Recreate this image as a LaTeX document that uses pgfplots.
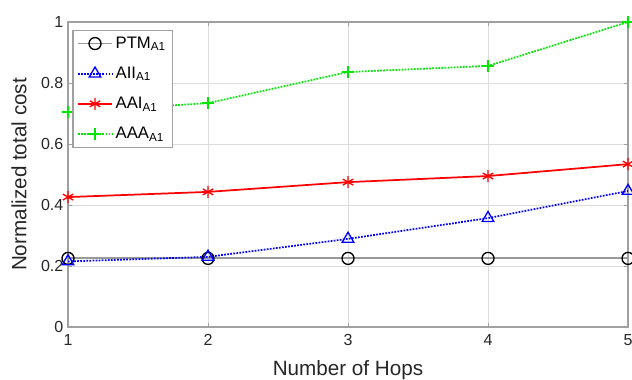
\documentclass[border=0pt]{standalone}
\usepackage{pgfplots}
\pgfplotsset{compat=1.18}
\usepackage{fontspec}
\setmainfont{Liberation Sans}
\definecolor{axgray}{RGB}{160,160,160}
\definecolor{gridgray}{RGB}{220,220,220}
\definecolor{mgreen}{RGB}{0,230,0}
\begin{document}
\begin{tikzpicture}
\begin{axis}[
  scale only axis,
  width=420pt, height=228.75pt,
  xmin=1, xmax=5, ymin=0, ymax=1,
  xtick={1,2,3,4,5},
  ytick={0,0.2,0.4,0.6,0.8,1},
  /pgf/number format/assume math mode=true,
  tick label style={font=\fontsize{12}{14}\selectfont, text=black!85},
  label style={font=\fontsize{15.5}{18}\selectfont, text=black!85},
  xlabel={Number of Hops},
  ylabel={Normalized total cost},
  xlabel style={yshift=-4pt},
  ylabel style={yshift=4pt},
  axis line style={axgray, line width=1pt},
  tick style={axgray, line width=0.6pt},
  tick align=inside,
  major tick length=3pt,
  xmajorgrids, ymajorgrids,
  grid style={gridgray, line width=0.6pt},
  xticklabel style={yshift=-2pt},
  legend style={at={(0.008,0.975)}, anchor=north west, draw=axgray, line width=0.8pt,
    font=\fontsize{12.5}{14}\selectfont, fill=white, row sep=8.5pt, inner sep=3pt},
  legend cell align=left,
  legend image code/.code={
    \draw[mark repeat=2,mark phase=2] plot coordinates {(0cm,0cm) (0.45cm,0cm) (0.9cm,0cm)};
  },
]
\addplot[color=black!40, line width=1.4pt, mark=o, mark size=4.5pt,
  mark options={draw=black, solid, line width=1pt}]
  coordinates {(1,0.225) (2,0.225) (3,0.225) (4,0.225) (5,0.225)};
\addlegendentry{PTM\textsubscript{A1}}
\addplot[color=blue, line width=1.3pt, densely dotted, mark=triangle, mark size=5pt,
  mark options={solid, line width=1pt}]
  coordinates {(1,0.215) (2,0.23) (3,0.289) (4,0.357) (5,0.446)};
\addlegendentry{AII\textsubscript{A1}}
\addplot[color=red, line width=1.3pt, mark=asterisk, mark size=4.5pt,
  mark options={solid, line width=1pt}]
  coordinates {(1,0.426) (2,0.443) (3,0.475) (4,0.495) (5,0.534)};
\addlegendentry{AAI\textsubscript{A1}}
\addplot[color=mgreen, line width=1.3pt, densely dotted, mark=+, mark size=4.5pt,
  mark options={solid, line width=1pt}]
  coordinates {(1,0.705) (2,0.734) (3,0.836) (4,0.856) (5,1.0)};
\addlegendentry{AAA\textsubscript{A1}}
\end{axis}
\pgfresetboundingbox
\path[use as bounding box] ([shift={(-51pt,-39pt)}]current axis.south west) rectangle ([shift={(3pt,16.5pt)}]current axis.north east);
\end{tikzpicture}
\end{document}
